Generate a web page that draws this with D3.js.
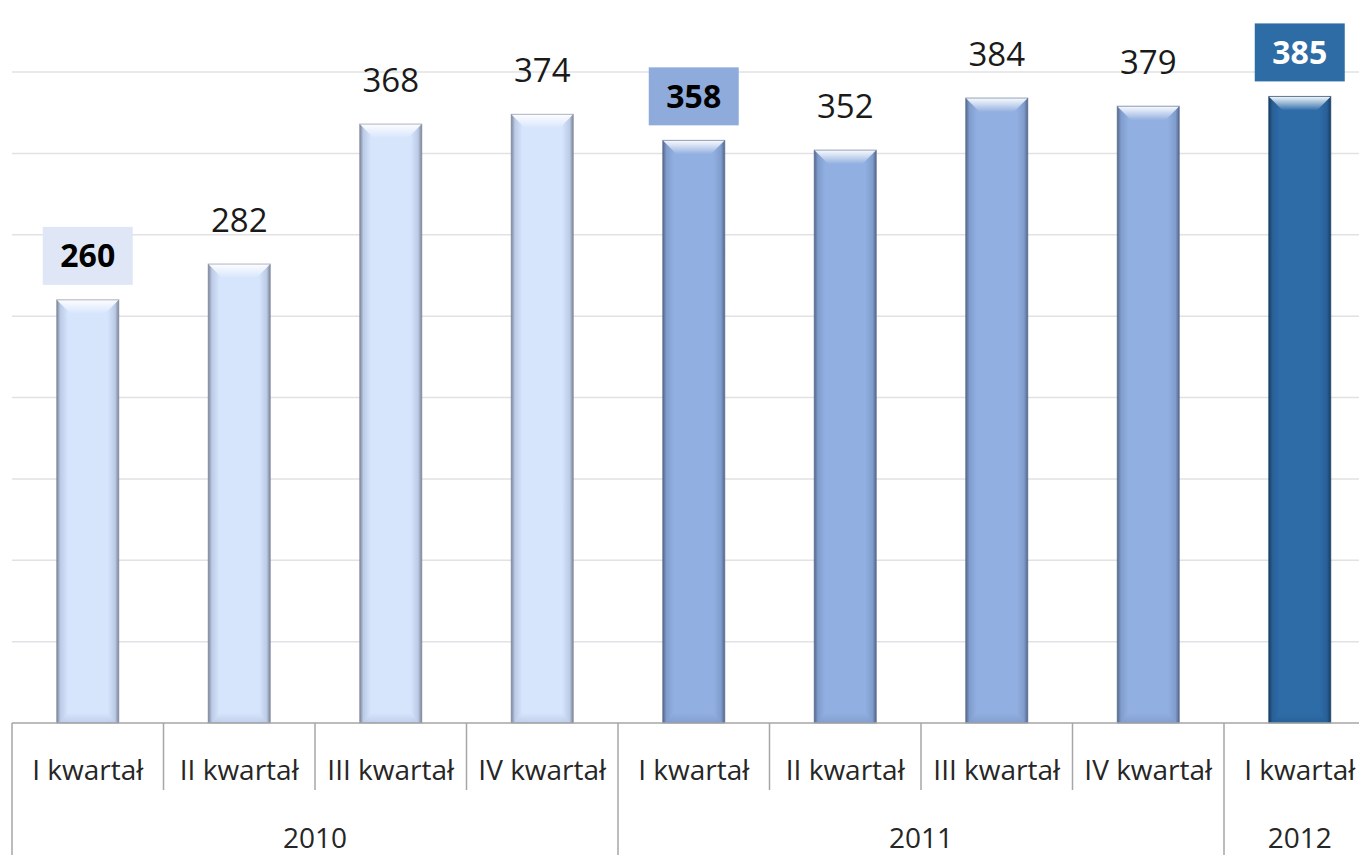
<!DOCTYPE html>
<html><head><meta charset="utf-8">
<script src="https://cdn.jsdelivr.net/npm/d3@7"></script>
<style>
body{margin:0;background:#fff;overflow:hidden;}
svg{display:block;font-family:"Open Sans","Noto Sans",sans-serif;}
</style>
</head><body><svg id="c" width="1359" height="855"></svg>
<script>
// ---- data ----
const quarters = ["I kwartał","II kwartał","III kwartał","IV kwartał","I kwartał","II kwartał","III kwartał","IV kwartał","I kwartał"];
const years = ["2010","2011","2012"];
const quartersPerYear = [4,4,1];
const values = [260,282,368,374,358,352,384,379,385];
const boxedLabels = [true,false,false,false,true,false,false,false,true];
const yTicks = [0,50,100,150,200,250,300,350,400];

// ---- styles ----
const palette = {
  "2010": {edge:"#7c8498", mid:"#bccbe6", center:"#d6e5fc", box:"#dfe7f6", boxText:"#000"},
  "2011": {edge:"#55668a", mid:"#7f9ccd", center:"#91afe0", box:"#8eabdb", boxText:"#000"},
  "2012": {edge:"#173c63", mid:"#285f96", center:"#2e6ca8", box:"#2e6ca6", boxText:"#fff"}
};

const yearOfBar = [];
years.forEach((yr,i)=>{ for(let k=0;k<quartersPerYear[i];k++) yearOfBar.push(yr); });

const svg = d3.select("#c");
const leftX = 12, rightX = 1375.5, baseY = 723, topY = 72;
const x = d3.scaleBand().domain(d3.range(values.length)).range([leftX,rightX]).padding(0);
const y = d3.scaleLinear().domain([0,400]).range([baseY,topY]);

const defs = svg.append("defs");
years.forEach(yr=>{
  const p = palette[yr];
  const g = defs.append("linearGradient").attr("id","body"+yr).attr("x1",0).attr("x2",1).attr("y1",0).attr("y2",0);
  [[0,p.edge],[0.06,p.mid],[0.18,p.center],[0.82,p.center],[0.94,p.mid],[1,p.edge]].forEach(([o,c])=>g.append("stop").attr("offset",o).attr("stop-color",c));
  const t = defs.append("linearGradient").attr("id","top"+yr).attr("x1",0).attr("x2",0).attr("y1",0).attr("y2",1);
  t.append("stop").attr("offset",0).attr("stop-color","#ffffff").attr("stop-opacity",0.95);
  t.append("stop").attr("offset",1).attr("stop-color",p.center).attr("stop-opacity",1);
  const b = defs.append("linearGradient").attr("id","bot"+yr).attr("x1",0).attr("x2",0).attr("y1",0).attr("y2",1);
  b.append("stop").attr("offset",0).attr("stop-color",p.center);
  b.append("stop").attr("offset",1).attr("stop-color",p.mid);
});

// gridlines
svg.append("g").selectAll("line").data(yTicks.filter(t=>t>0)).join("line")
  .attr("x1",leftX).attr("x2",1359).attr("y1",d=>y(d)).attr("y2",d=>y(d))
  .attr("stroke","#e2e2e6").attr("stroke-width",1.5);

// bars
const bw = x.bandwidth()*0.41;
const bars = svg.append("g").selectAll("g").data(values).join("g")
  .attr("transform",(d,i)=>`translate(${x(i)+x.bandwidth()/2-bw/2},0)`);
bars.append("rect").attr("x",0).attr("width",bw)
  .attr("y",d=>y(d)).attr("height",d=>baseY-y(d))
  .attr("fill",(d,i)=>`url(#body${yearOfBar[i]})`);
const bev = 14;
bars.append("path")
  .attr("d",d=>`M0,${y(d)}H${bw}L${bw-bev},${y(d)+bev}H${bev}Z`)
  .attr("fill",(d,i)=>`url(#top${yearOfBar[i]})`);
bars.append("path")
  .attr("d",d=>`M${bev*0.7},${baseY-10}H${bw-bev*0.7}L${bw-3},${baseY}H3Z`)
  .attr("fill",(d,i)=>`url(#bot${yearOfBar[i]})`).attr("opacity",0.8);
bars.append("rect").attr("x",0).attr("width",bw)
  .attr("y",d=>y(d)).attr("height",d=>baseY-y(d))
  .attr("fill","none").attr("stroke",(d,i)=>palette[yearOfBar[i]].edge).attr("stroke-width",1).attr("stroke-opacity",0.6);

// value labels
const lift = 44;
const labels = svg.append("g").selectAll("g").data(values).join("g")
  .attr("transform",(d,i)=>`translate(${x(i)+x.bandwidth()/2},${y(d)-lift})`);
labels.append("rect")
  .attr("x",-45).attr("y",-29).attr("width",90).attr("height",58)
  .attr("fill",(d,i)=>boxedLabels[i]?palette[yearOfBar[i]].box:"none");
labels.append("text")
  .attr("text-anchor","middle").attr("dy","0.36em")
  .attr("font-size",(d,i)=>boxedLabels[i]?32:33)
  .attr("font-weight",(d,i)=>boxedLabels[i]?"bold":"normal")
  .attr("fill",(d,i)=>boxedLabels[i]?palette[yearOfBar[i]].boxText:"#1a1a1a")
  .text(d=>d);

// category axis
const ax = svg.append("g");
ax.append("line").attr("x1",leftX).attr("x2",1359).attr("y1",baseY).attr("y2",baseY).attr("stroke","#a6a6a6").attr("stroke-width",1.5);
let idx = 0;
const yearStarts = [];
years.forEach((yr,i)=>{ yearStarts.push(idx); idx += quartersPerYear[i]; });
yearStarts.push(idx);
const bx = i => i===values.length ? rightX : x(i);
ax.selectAll("line.q").data(d3.range(values.length+1)).join("line").attr("class","q")
  .attr("x1",bx).attr("x2",bx)
  .attr("y1",baseY).attr("y2",i=>yearStarts.includes(i)?855:790)
  .attr("stroke","#a6a6a6").attr("stroke-width",1.5);
ax.selectAll("text.q").data(quarters).join("text").attr("class","q")
  .attr("x",(d,i)=>x(i)+x.bandwidth()/2).attr("y",770).attr("dy","0.36em")
  .attr("text-anchor","middle").attr("font-size",28).attr("fill","#262626").text(d=>d);
ax.selectAll("text.y").data(years).join("text").attr("class","y")
  .attr("x",(d,i)=>(bx(yearStarts[i]) + bx(yearStarts[i+1]))/2)
  .attr("y",838).attr("dy","0.36em")
  .attr("text-anchor","middle").attr("font-size",28).attr("fill","#262626").text(d=>d);
</script>
</body></html>
